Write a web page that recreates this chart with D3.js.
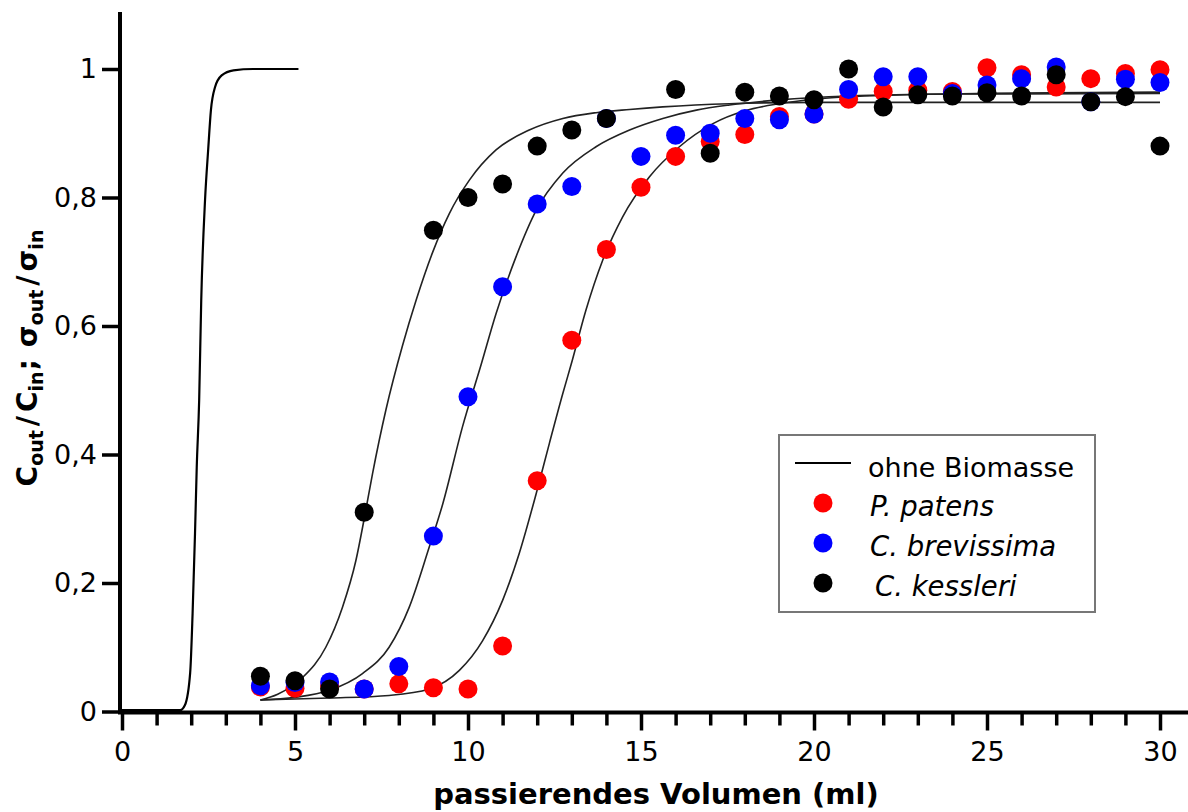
<!DOCTYPE html>
<html><head><meta charset="utf-8">
<script src="https://cdn.jsdelivr.net/npm/d3@7"></script>
<style>
html,body{margin:0;padding:0;background:#fff;}
svg{display:block;}
text{font-family:"DejaVu Sans",Verdana,sans-serif;}
</style></head>
<body>
<svg id="chart" width="1188" height="812"></svg>
<script>
// ---- data ----
const volumes = [4,5,6,7,8,9,10,11,12,13,14,15,16,17,18,19,20,21,22,23,24,25,26,27,28,29,30];
const pPatens = [0.038,0.036,0.040,0.035,0.043,0.037,0.035,0.102,0.359,0.578,0.719,0.816,0.864,0.887,0.898,0.926,0.930,0.953,0.965,0.967,0.965,1.002,0.991,0.972,0.985,0.993,0.999];
const cBrevissima = [0.040,0.045,0.046,0.035,0.070,0.273,0.490,0.661,0.790,0.817,0.923,0.864,0.897,0.900,0.923,0.921,0.930,0.968,0.988,0.988,0.962,0.975,0.985,1.003,0.949,0.984,0.979];
const cKessleri = [0.055,0.048,0.035,0.310,null,0.749,0.800,0.821,0.880,0.905,0.923,null,0.968,0.869,0.964,0.958,0.952,1.000,0.941,0.960,0.958,0.963,0.958,0.991,0.949,0.957,0.880];

// reference curve without biomass
const ohneX = [0,1.68,1.82,1.97,2.04,2.11,2.16,2.23,2.29,2.40,2.49,2.57,2.69,2.88,3.22,3.79,5.1];
const ohneY = [0.002,0.002,0.01,0.06,0.152,0.277,0.38,0.484,0.64,0.796,0.874,0.936,0.972,0.99,0.998,1.0,1.0];

// fitted curves
const fitKessleriX = [4,4.5,5.22,5.89,6.37,6.76,7.0,7.24,7.63,8.11,8.5,8.98,9.46,10.04,10.81,11.77,12.74,13.7,14.67,15.63,17.56,20,30];
const fitKessleriY = [0.018,0.027,0.053,0.10,0.162,0.235,0.30,0.37,0.47,0.57,0.64,0.715,0.775,0.827,0.874,0.905,0.923,0.932,0.937,0.941,0.946,0.948,0.948];
const fitBrevissimaX = [4,5,6,6.95,7.72,8.3,8.88,9.27,9.84,10.38,10.81,11.39,11.97,12.74,13.7,14.67,15.63,16.6,17.56,19,21,24,30];
const fitBrevissimaY = [0.018,0.022,0.033,0.059,0.10,0.162,0.256,0.323,0.443,0.54,0.619,0.708,0.78,0.838,0.879,0.905,0.923,0.936,0.944,0.952,0.958,0.961,0.962];
const fitPatensX = [4,6,7.72,8.88,9.75,10.42,11.0,11.48,11.97,12.35,12.74,12.98,13.41,13.89,14.47,15.24,16.11,17.08,18,19,20,22,25,30];
const fitPatensY = [0.018,0.021,0.025,0.035,0.064,0.11,0.173,0.246,0.339,0.417,0.495,0.54,0.625,0.702,0.77,0.832,0.879,0.915,0.935,0.946,0.953,0.959,0.962,0.964];

const xMajorTicks = [0,5,10,15,20,25,30];
const xMinorTicks = d3.range(0,31,1);
const yTicks = [0,0.2,0.4,0.6,0.8,1];
const yTickLabels = ["0","0,2","0,4","0,6","0,8","1"];

const seriesNames = ["P. patens","C. brevissima","C. kessleri"];
const seriesColors = ["#ff0000","#0000ff","#000000"];
const seriesValues = [pPatens,cBrevissima,cKessleri];

// ---- layout ----
const svg = d3.select("#chart");
const x = d3.scaleLinear().domain([0,30]).range([122,1160]);
const y = d3.scaleLinear().domain([0,1]).range([711.5,69]);
const axisY = 712.5, axisX = 120;

// axes
const gx = svg.append("g").attr("transform",`translate(0,${axisY})`);
gx.call(d3.axisBottom(x).tickValues(xMinorTicks.filter(d=>d%5!==0)).tickSize(13).tickFormat(""))
  .call(g=>g.select(".domain").remove());
gx.selectAll(".tick line").attr("stroke","#000").attr("stroke-width",3.5);
const gx2 = svg.append("g").attr("transform",`translate(0,${axisY})`);
gx2.call(d3.axisBottom(x).tickValues(xMajorTicks).tickSize(18).tickPadding(11).tickFormat(d3.format("d")))
  .call(g=>g.select(".domain").remove());
gx2.selectAll(".tick line").attr("stroke","#000").attr("stroke-width",3.5);
gx2.selectAll(".tick text").attr("font-size",27).attr("fill","#000").attr("font-family","DejaVu Sans");
svg.append("line").attr("x1",118).attr("x2",1188).attr("y1",axisY).attr("y2",axisY).attr("stroke","#000").attr("stroke-width",4);

const gy = svg.append("g").attr("transform",`translate(${axisX},0)`);
gy.call(d3.axisLeft(y).tickValues(yTicks).tickSize(18).tickPadding(5).tickFormat((d,i)=>yTickLabels[i]))
  .call(g=>g.select(".domain").remove());
gy.selectAll(".tick line").attr("stroke","#000").attr("stroke-width",3.5);
gy.selectAll(".tick text").attr("font-size",27).attr("fill","#000").attr("font-family","DejaVu Sans");
svg.append("line").attr("x1",axisX).attr("x2",axisX).attr("y1",12).attr("y2",714).attr("stroke","#000").attr("stroke-width",4);

// axis titles
svg.append("text").attr("x",656).attr("y",804).attr("text-anchor","middle")
  .attr("font-size",29).attr("font-weight","bold").attr("fill","#000").text("passierendes Volumen (ml)");

const yt = svg.append("text").attr("transform","translate(37,358) rotate(-90)").attr("text-anchor","middle")
  .attr("font-weight","bold").attr("font-size",28).attr("fill","#000");
const parts = [["C",0,0],["out",1,0],["/",0,4],["C",0,4],["in",1,0],[";",0,1],["σ",0,12],["out",1,0],["/",0,4],["σ",0,4],["in",1,0]];
let prevSub = false;
parts.forEach(([t,sub,dx])=>{
  const ts = yt.append("tspan").text(t).attr("dx",dx);
  if(sub){ ts.attr("font-size",19).attr("dy", prevSub?0:6); }
  else { ts.attr("dy", prevSub?-6:0); }
  prevSub = !!sub;
});

// lines
const lineGen = d3.line().x(d=>x(d[0])).y(d=>y(d[1])).curve(d3.curveMonotoneX);
svg.append("path").datum(ohneX.map((v,i)=>[v,ohneY[i]])).attr("d",lineGen)
  .attr("fill","none").attr("stroke","#000").attr("stroke-width",2.2);
[[fitPatensX,fitPatensY],[fitBrevissimaX,fitBrevissimaY],[fitKessleriX,fitKessleriY]].forEach(([xs,ys])=>{
  svg.append("path").datum(xs.map((v,i)=>[v,ys[i]])).attr("d",lineGen)
    .attr("fill","none").attr("stroke","#222").attr("stroke-width",1.6);
});

// points
seriesValues.forEach((vals,si)=>{
  svg.append("g").selectAll("circle")
    .data(volumes.map((v,i)=>[v,vals[i]]).filter(d=>d[1]!==null))
    .join("circle").attr("cx",d=>x(d[0])).attr("cy",d=>y(d[1])).attr("r",9.5)
    .attr("fill",seriesColors[si]);
});

// legend
const lg = svg.append("g");
lg.append("rect").attr("x",779).attr("y",435).attr("width",316).attr("height",177)
  .attr("fill","#fff").attr("stroke","#777").attr("stroke-width",2);
lg.append("line").attr("x1",795).attr("x2",851).attr("y1",463).attr("y2",463).attr("stroke","#000").attr("stroke-width",2.2);
lg.append("text").attr("x",868).attr("y",477).attr("font-size",27).attr("fill","#000").text("ohne Biomasse");
const legY = [503,543,583];
const legTX = [870,870,875];
seriesNames.forEach((n,i)=>{
  lg.append("circle").attr("cx",823).attr("cy",legY[i]).attr("r",9.5).attr("fill",seriesColors[i]);
  lg.append("text").attr("x",legTX[i]).attr("y",legY[i]+13).attr("font-size",27.5).attr("font-style","italic").attr("fill","#000").text(n);
});
</script>
</body></html>
